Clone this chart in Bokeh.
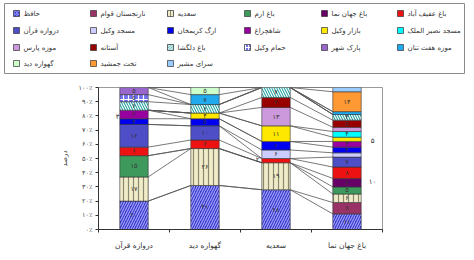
from bokeh.plotting import figure
from bokeh.models import ColumnDataSource, Range1d, FixedTicker
from bokeh.core.properties import value
from bokeh.embed import file_html
from bokeh.resources import INLINE

# ---------------- data ----------------
categories = ["دروازه قرآن", "گهواره دید", "سعدیه", "باغ جهان نما"]
series_names = ["حافظ", "نارنجستان قوام", "سعدیه", "باغ ارم", "باغ جهان نما", "باغ عفیف آباد",
                "دروازه قرآن", "مسجد وکیل", "ارگ کریمخان", "شاهچراغ", "بازار وکیل", "مسجد نصیر الملک",
                "موزه پارس", "آستانه", "باغ دلگشا", "حمام وکیل", "پارک شهر", "موزه هفت تنان",
                "گهواره دید", "تخت جمشید", "سرای مشیر"]
vals_darvazeh = [20, 0, 17, 15, 0, 6, 16, 0, 4, 6, 0, 0, 0, 0, 6, 5, 5, 0, 0, 0, 0]
vals_gahvareh = [31, 0, 26, 0, 0, 6, 10, 0, 5, 0, 4, 0, 0, 0, 6, 0, 0, 7, 5, 0, 0]
vals_saadieh = [28, 0, 19, 0, 0, 3, 0, 6, 6, 0, 11, 0, 13, 7, 7, 0, 0, 0, 0, 0, 0]
vals_jahannama = [11, 8, 6, 5, 6, 8, 7, 3, 4, 4, 3, 4, 3, 5, 4, 0, 0, 2, 0, 14, 3]
y_ticks = [0, 10, 20, 30, 40, 50, 60, 70, 80, 90, 100]
y_tick_labels = ["۰٪", "۱۰٪", "۲۰٪", "۳۰٪", "۴۰٪", "۵۰٪", "۶۰٪", "۷۰٪", "۸۰٪", "۹۰٪", "۱۰۰٪"]
y_title = "درصد"
side_notes = ["۳", "۲", "۵", "۱۰"]

# ---------------- styles ----------------
fills = ["#3838C8", "#993366", "#F0EBC8", "#3E9A5C", "#660066", "#EE1111", "#4E4EC6",
         "#CCCCFF", "#0000F0", "#9900A0", "#FFE800", "#00FFFF", "#CC99DD", "#990000",
         "#2AA5A5", "#6F6FF0", "#9966CC", "#22AAEE", "#CCFFCC", "#FF9933", "#99CCFF"]
hatches = ["/", " ", "|", " ", " ", " ", " ", " ", " ", " ", " ", " ", " ", " ",
           "\\", "+", " ", " ", " ", " ", " "]
hatch_cols = ["#A0A0FF", "#000000", "#8A8870", "#000000", "#000000", "#000000", "#000000",
              "#000000", "#000000", "#000000", "#000000", "#000000", "#000000", "#000000",
              "#FFFFFF", "#FFFFFF", "#000000", "#000000", "#000000", "#000000", "#000000"]
FONT = value("DejaVu Sans")
PD = str.maketrans("0123456789", "۰۱۲۳۴۵۶۷۸۹")

bars = [vals_darvazeh, vals_gahvareh, vals_saadieh, vals_jahannama]
xs = [1, 2, 3, 4]
BW = 0.4

# ---------------- main chart ----------------
p = figure(width=466, height=176, x_range=Range1d(0.5, 4.5), y_range=Range1d(0, 100),
           output_backend="svg", toolbar_location=None,
           min_border_left=98, min_border_right=84, min_border_top=11, min_border_bottom=19)
p.xgrid.visible = False
p.ygrid.visible = False
p.outline_line_color = "#9a9a9a"

tops = []
for b in bars:
    c, t = 0, []
    for v in b:
        c += v
        t.append(c)
    tops.append(t)

# series lines
x0s, y0s, x1s, y1s = [], [], [], []
for i in range(len(bars) - 1):
    for s in range(len(series_names)):
        x0s.append(xs[i] + BW / 2)
        y0s.append(tops[i][s])
        x1s.append(xs[i + 1] - BW / 2)
        y1s.append(tops[i + 1][s])
p.segment(x0=x0s, y0=y0s, x1=x1s, y1=y1s, line_color="#555555", line_width=0.8)

# stacked segments
seg = dict(x=[], bottom=[], top=[], fill=[], hatch=[], hcol=[], lab=[], mid=[])
for i, b in enumerate(bars):
    c = 0
    for s, v in enumerate(b):
        if v > 0:
            seg["x"].append(xs[i])
            seg["bottom"].append(c)
            seg["top"].append(c + v)
            seg["fill"].append(fills[s])
            seg["hatch"].append(hatches[s])
            seg["hcol"].append(hatch_cols[s])
            seg["lab"].append(str(v).translate(PD) if v >= 4 else "")
            seg["mid"].append(c + v / 2)
        c += v
src = ColumnDataSource(seg)
p.vbar(x="x", bottom="bottom", top="top", width=BW, source=src,
       fill_color="fill", hatch_pattern="hatch", hatch_color="hcol",
       hatch_scale=5, hatch_weight=1.2, line_color="#333333", line_width=0.6)
p.text(x="x", y="mid", text="lab", source=src, text_font=FONT, text_font_size="6.5px",
       text_align="center", text_baseline="middle", text_color="#333333")

# stray leader labels
p.text(x=[0.77, 2.74, 4.36, 4.36], y=[79, 48.6, 62.3, 33.6], text=side_notes,
       text_font=FONT, text_font_size="7px", text_align="center",
       text_baseline="middle", text_color="#333333")

# axes
p.xaxis.ticker = FixedTicker(ticks=xs, minor_ticks=[0.5, 1.5, 2.5, 3.5, 4.5])
p.xaxis.major_label_overrides = {x: c for x, c in zip(xs, categories)}
p.xaxis.major_tick_out = 0
p.xaxis.major_tick_in = 0
p.xaxis.minor_tick_out = 3
p.xaxis.minor_tick_in = 0
p.xaxis.major_label_standoff = 8
p.xaxis.major_label_text_font = "DejaVu Sans"
p.xaxis.major_label_text_font_size = "7.5px"
p.xaxis.major_label_text_color = "#333333"
p.xaxis.axis_line_color = "#333333"
p.xaxis.minor_tick_line_color = "#333333"

p.yaxis.ticker = FixedTicker(ticks=y_ticks, minor_ticks=[])
p.yaxis.major_label_overrides = {t: l for t, l in zip(y_ticks, y_tick_labels)}
p.yaxis.major_tick_out = 3
p.yaxis.major_tick_in = 0
p.yaxis.minor_tick_out = 0
p.yaxis.major_label_standoff = 3
p.yaxis.major_label_text_font = "DejaVu Sans"
p.yaxis.major_label_text_font_size = "6.5px"
p.yaxis.major_label_text_color = "#444444"
p.yaxis.axis_label = y_title
p.yaxis.axis_label_text_font = "DejaVu Sans"
p.yaxis.axis_label_text_font_size = "7px"
p.yaxis.axis_label_text_font_style = "normal"
p.yaxis.axis_label_text_color = "#444444"
p.yaxis.axis_label_standoff = 7
p.yaxis.axis_line_color = "#333333"
p.yaxis.major_tick_line_color = "#333333"

# ---------------- legend panel (separate root, drawn above) ----------------
lf = figure(width=466, height=76, x_range=Range1d(0, 466), y_range=Range1d(76, 0),
            output_backend="svg", toolbar_location=None, min_border=0,
            x_axis_type=None, y_axis_type=None)
lf.xgrid.visible = False
lf.ygrid.visible = False
lf.outline_line_color = None
lf.quad(left=[4], right=[464], top=[3], bottom=[73], fill_color=None,
        line_color="#8a8a8a", line_width=1)

col_x = [16, 93, 170, 247, 324, 400]
row_y = [13, 30, 47, 63]
leg = dict(x=[], y=[], tx=[], name=[], fill=[], hatch=[], hcol=[])
for k, name in enumerate(series_names):
    r, cidx = divmod(k, 6)
    leg["x"].append(col_x[cidx])
    leg["y"].append(row_y[r])
    leg["tx"].append(col_x[cidx] + 7)
    leg["name"].append(name)
    leg["fill"].append(fills[k])
    leg["hatch"].append(hatches[k])
    leg["hcol"].append(hatch_cols[k])
lsrc = ColumnDataSource(leg)
lf.rect(x="x", y="y", width=6, height=6, source=lsrc, fill_color="fill",
        hatch_pattern="hatch", hatch_color="hcol", hatch_scale=3, hatch_weight=1,
        line_color="#333333", line_width=0.7)
lf.text(x="tx", y="y", text="name", source=lsrc, text_font=FONT, text_font_size="7px",
        text_align="left", text_baseline="middle", text_color="#333333")

open("out.html", "w").write(file_html([lf, p], INLINE))
